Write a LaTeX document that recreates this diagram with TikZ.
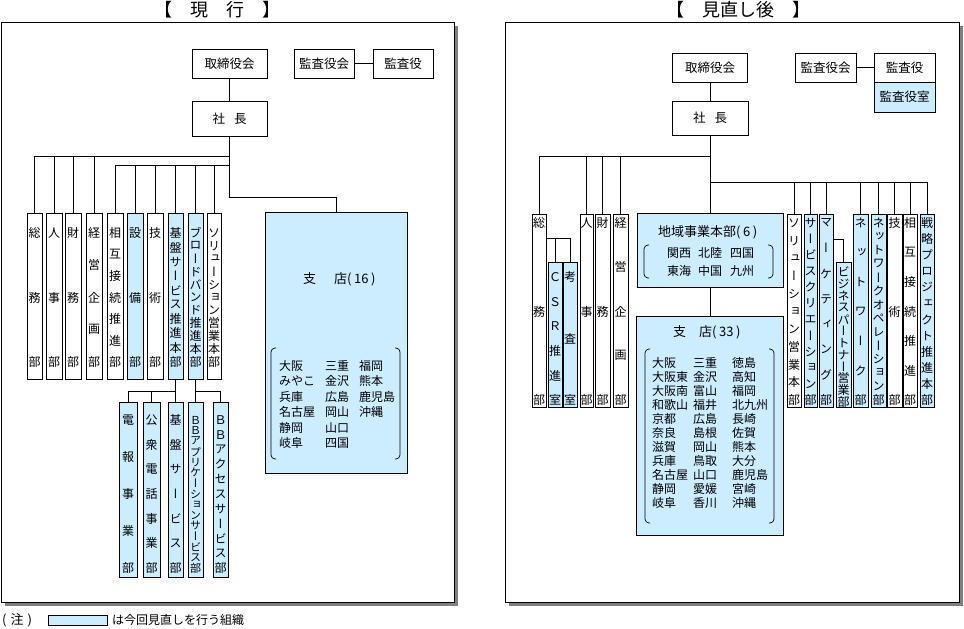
\documentclass[tikz,border=0pt]{standalone}
\usepackage{fontspec}
\setmainfont{Noto Sans CJK JP}
\newfontfamily\vfont[RawFeature=+vert]{Noto Sans CJK JP}
\definecolor{blu}{HTML}{CCECFF}
\tikzset{
  box/.style={draw, line width=0.9pt, inner sep=0pt, outer sep=0pt, font=\fontsize{12.5}{14}\selectfont},
  colbox/.style={draw, line width=0.9pt, inner sep=0pt, outer sep=0pt},
  vch/.style={inner sep=0pt, font=\vfont\fontsize{\vfs}{\vfs}\selectfont},
  conn/.style={line width=0.9pt},
  panel/.style={draw, line width=0.9pt, fill=white},
  shade/.style={fill=black!50, draw=none},
  txt/.style={inner sep=0pt, anchor=west, font=\fontsize{12}{14}\selectfont},
  hdr/.style={inner sep=0pt, anchor=west, font=\fontsize{13}{14}\selectfont},
  ttl/.style={inner sep=0pt, font=\fontsize{18}{18}\selectfont},
  brk/.style={line width=0.7pt, rounded corners=4pt}
}
\newcommand\kp[1]{(\kern2.5pt#1\kern2.5pt)}
\def\vfs{12}
\def\padT{20}
\def\padB{17}
\newcommand\vcol[7]{%
  \node[colbox, fill=#6, minimum width={#3-#2}, minimum height={#5-#4}] (#1) at ({(#2+#3)/2},{(#4+#5)/2}) {};
  \foreach \vchar [count=\vi] in {#7} {\xdef\vn{\vi}}%
  \foreach \vchar [count=\vi] in {#7} {\node[vch] (#1-\vi) at ({(#2+#3)/2},{#4+\padT+(\vi-1)*(#5-#4-\padT-\padB)/(\vn-1)}) {\vchar};}%
}
\begin{document}
\begin{tikzpicture}[x=1pt,y=-1pt]
\useasboundingbox (0,0) rectangle (964,629);
% panels
\fill[shade] (5,26) rectangle (458,606);
\draw[panel] (1,22) rectangle (454,602);
\fill[shade] (509,26) rectangle (963,606);
\draw[panel] (505,22) rectangle (959,602);
\node[ttl] (Ltitle) at (217,10) {【　現　行　】};
\node[ttl] (Rtitle) at (738,10) {【　見直し後　】};

% ===== LEFT =====
\node[box, minimum width=75, minimum height=29] (Ltori) at (229.5,63.5) {取締役会};
\node[box, minimum width=60, minimum height=29] (Lkk) at (324,63.5) {監査役会};
\node[box, minimum width=60, minimum height=29] (Lky) at (403,63.5) {監査役};
\node[box, minimum width=75, minimum height=35] (Lsha) at (229.5,118.5) {社\hspace{9pt}長};
\draw[conn] (Ltori) -- (Lsha);
\draw[conn] (Lkk) -- (Lky);

\def\padT{20}\def\padB{17}
\vcol{Lsoumu}{27}{42}{213}{379}{white}{総,務,部}
\vcol{Ljinji}{46}{62}{213}{379}{white}{人,事,部}
\vcol{Lzaimu}{65}{81}{213}{379}{white}{財,務,部}
\vcol{Lkeiei}{86}{102}{213}{379}{white}{経,営,企,画,部}
\vcol{Lsougo}{107}{123}{213}{379}{white}{相,互,接,続,推,進,部}
\vcol{Lsetsubi}{127}{143}{213}{379}{blu}{設,備,部}
\vcol{Lgijutsu}{147}{163}{213}{379}{white}{技,術,部}
\vcol{Lkiban}{168}{183}{213}{379}{blu}{基,盤,サ,ー,ビ,ス,推,進,本,部}
\vcol{Lbb}{188}{203}{213}{379}{blu}{ブ,ロ,ー,ド,バ,ン,ド,推,進,本,部}
\vcol{Lsol}{207}{221}{213}{379}{white}{ソ,リ,ュ,ー,シ,ョ,ン,営,業,本,部}

\def\padT{18}\def\padB{9}
\vcol{Ldenpo}{119}{137}{402}{577}{blu}{電,報,事,業,部}
\vcol{Lkouden}{143}{160}{402}{577}{blu}{公,衆,電,話,事,業,部}
\vcol{Lkibans}{168}{183}{402}{577}{blu}{基,盤,サ,ー,ビ,ス,部}
\def\vfs{11}
\vcol{Lbbapp}{188}{203}{402}{577}{blu}{Ｂ,Ｂ,ア,プ,リ,ケ,ー,シ,ョ,ン,サ,ー,ビ,ス,部}
\def\vfs{12}
\vcol{Lbbacc}{213}{228}{402}{577}{blu}{Ｂ,Ｂ,ア,ク,セ,ス,サ,ー,ビ,ス,部}

% branch box
\node[colbox, fill=blu, minimum width=142, minimum height=261] (Lshiten) at (336,342.5) {};
\node[hdr] (Lshiten-t) at (303,279) {支\hspace{18pt}店\kp{16}};
\draw[brk] (276,348) -- (271,348) -- (271,459) -- (276,459);
\draw[brk] (395,348) -- (400,348) -- (400,459) -- (395,459);
\foreach \nm [count=\k] in {大阪,みやこ,兵庫,名古屋,静岡,岐阜}
  \node[txt] (La-\k) at (279,{366+(\k-1)*15.4}) {\nm};
\foreach \nm [count=\k] in {三重,金沢,広島,岡山,山口,四国}
  \node[txt] (Lb-\k) at (325,{366+(\k-1)*15.4}) {\nm};
\foreach \nm [count=\k] in {福岡,熊本,鹿児島,沖縄}
  \node[txt] (Lc-\k) at (359,{366+(\k-1)*15.4}) {\nm};

% left connectors
\coordinate (Lb1) at (229.5,156);
\coordinate (Lb2) at (229.5,165);
\coordinate (Lb3) at (229.5,197);
\draw[conn] (Lsha.south) -- (Lb3) -| (Lshiten.north);
\foreach \n in {Lsoumu,Ljinji,Lzaimu,Lkeiei}
  \draw[conn] (Lb1) -| (\n.north);
\foreach \n in {Lsougo,Lsetsubi,Lgijutsu,Lkiban,Lbb,Lsol}
  \draw[conn] (Lb2) -| (\n.north);
\coordinate (Lk) at (175.5,391);
\draw[conn] (Lkiban.south) -- (Lk) -| (Ldenpo.north);
\draw[conn] (Lk) -| (Lkouden.north);
\draw[conn] (Lk) -- (Lkibans.north);
\coordinate (Lbq) at (195.5,391);
\draw[conn] (Lbb.south) -- (Lbq) -| (Lbbacc.north);
\draw[conn] (Lbq) -- (Lbbapp.north);

% ===== RIGHT =====
\node[box, minimum width=75, minimum height=29] (Rtori) at (710,67.5) {取締役会};
\node[box, minimum width=61, minimum height=29] (Rkk) at (825.5,67.5) {監査役会};
\node[box, minimum width=61, minimum height=29] (Rky) at (904.5,67.5) {監査役};
\node[box, fill=blu, minimum width=61, minimum height=30] (Rkys) at (904.5,97) {監査役室};
\node[box, minimum width=76, minimum height=34] (Rsha) at (710,118) {社\hspace{9pt}長};
\draw[conn] (Rtori) -- (Rsha);
\draw[conn] (Rkk) -- (Rky);

\def\padT{9}\def\padB{7}
\vcol{Rsoumu}{532}{546}{214}{407}{white}{総,務,部}
\vcol{Rjinji}{580}{593}{214}{407}{white}{人,事,部}
\vcol{Rzaimu}{595}{610}{214}{407}{white}{財,務,部}
\vcol{Rkeiei}{613}{628}{214}{407}{white}{経,営,企,画,部}
\vcol{Rsol}{787}{801}{214}{407}{white}{ソ,リ,ュ,ー,シ,ョ,ン,営,業,本,部}
\vcol{Rsvc}{804}{817}{214}{407}{blu}{サ,ー,ビ,ス,ク,リ,エ,ー,シ,ョ,ン,部}
\vcol{Rmkt}{819}{833}{214}{407}{blu}{マ,ー,ケ,テ,ィ,ン,グ,部}
\vcol{Rnet}{853}{868}{214}{407}{blu}{ネ,ッ,ト,ワ,ー,ク,部}
\vcol{Rnetope}{871}{886}{214}{407}{blu}{ネ,ッ,ト,ワ,ー,ク,オ,ペ,レ,ー,シ,ョ,ン,部}
\vcol{Rgij}{887}{902}{214}{407}{white}{技,術,部}
\vcol{Rsougo}{903}{917}{214}{407}{white}{相,互,接,続,推,進,部}
\vcol{Rsen}{920}{934}{214}{407}{blu}{戦,略,プ,ロ,ジ,ェ,ク,ト,推,進,本,部}
\def\padT{15}\def\padB{7}
\vcol{Rcsr}{548}{562}{262}{407}{blu}{Ｃ,Ｓ,Ｒ,推,進,室}
\vcol{Rkousa}{563}{577}{262}{407}{blu}{考,査,室}
\def\padT{10}\def\padB{5}
\vcol{Rbiz}{836}{851}{262}{407}{blu}{ビ,ジ,ネ,ス,パ,ー,ト,ナ,ー,営,業,部}

% regional HQ
\node[colbox, fill=blu, minimum width=146, minimum height=74] (Rchiiki) at (710,250) {};
\node[hdr] (Rchiiki-t) at (658,232) {地域事業本部\kp{6}};
\draw[brk] (649,245) -- (644,245) -- (644,278) -- (649,278);
\draw[brk] (768,245) -- (773,245) -- (773,278) -- (768,278);
\foreach \nm/\xx [count=\k] in {関西/667,北陸/698,四国/730}
  \node[txt] (Rr1-\k) at (\xx,253) {\nm};
\foreach \nm/\xx [count=\k] in {東海/667,中国/698,九州/730}
  \node[txt] (Rr2-\k) at (\xx,271) {\nm};

% branches
\node[colbox, fill=blu, minimum width=147, minimum height=219] (Rshiten) at (710,425.5) {};
\node[hdr] (Rshiten-t) at (673,332) {支\hspace{13pt}店\kp{33}};
\draw[brk] (650,349) -- (645,349) -- (645,523) -- (650,523);
\draw[brk] (769,349) -- (774,349) -- (774,523) -- (769,523);
\foreach \nm [count=\k] in {大阪,大阪東,大阪南,和歌山,京都,奈良,滋賀,兵庫,名古屋,静岡,岐阜}
  \node[txt] (Ra-\k) at (652,{363+(\k-1)*14}) {\nm};
\foreach \nm [count=\k] in {三重,金沢,富山,福井,広島,島根,岡山,鳥取,山口,愛媛,香川}
  \node[txt] (Rb-\k) at (693,{363+(\k-1)*14}) {\nm};
\foreach \nm [count=\k] in {徳島,高知,福岡,北九州,長崎,佐賀,熊本,大分,鹿児島,宮崎,沖縄}
  \node[txt] (Rc-\k) at (732,{363+(\k-1)*14}) {\nm};

% right connectors
\coordinate (Rb1) at (710,156);
\coordinate (Rb2) at (710,182);
\draw[conn] (Rsha.south) -- (Rchiiki.north);
\draw[conn] (Rchiiki.south) -- (Rshiten.north);
\foreach \n in {Rsoumu,Rjinji,Rzaimu,Rkeiei}
  \draw[conn] (Rb1) -| (\n.north);
\foreach \n in {Rsol,Rsvc,Rmkt,Rnet,Rnetope,Rgij,Rsougo,Rsen}
  \draw[conn] (Rb2) -| (\n.north);
\coordinate (Rs) at (546,238);
\draw[conn] (Rs) -| (Rcsr.north);
\draw[conn] (Rs) -| (Rkousa.north);
\coordinate (Rm) at (833,239);
\draw[conn] (Rm) -| (Rbiz.north);

% legend
\node[txt, font=\fontsize{13}{14}\selectfont] (note) at (2,620) {(\kern4pt 注\kern4pt)};
\node[colbox, fill=blu, minimum width=59, minimum height=10] (legbox) at (77.5,620) {};
\node[txt] (legtxt) at (112,620) {は今回見直しを行う組織};
\end{tikzpicture}
\end{document}
